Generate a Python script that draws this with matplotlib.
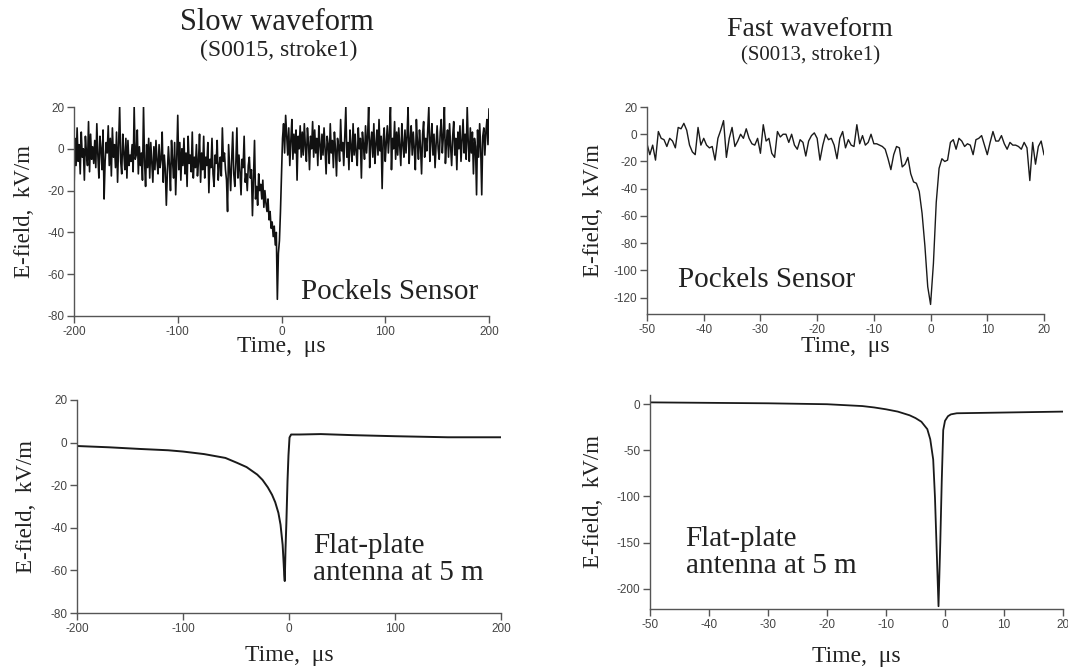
import numpy as np
import matplotlib
matplotlib.use("Agg")
import matplotlib.pyplot as plt

plt.rcParams["axes.unicode_minus"] = False

SERIF = "Liberation Serif"
SANS = "Liberation Sans"

# slow waveform, Pockels sensor: one sample per microsecond, -200..200 us
slow_pockels = [
    -20, 5, -8, 10, -6, 2, -12, 8, -4, 0, -15, 6, -2, -8, 13, -11, 7, -5, 1, -7,
    4, -9, 12, -3, -14, 6, 0, -10, 9, -24, -6, 3, -2, 11, -8, 5, -13, 10, -4, 2,
    -9, 8, -16, 3, 20, -6, -12, 7, -2, -10, 5, -14, 4, -8, -3, -6, 2, -11, 20, -5,
    -3, 9, -12, 1, -8, -2, -15, 20, -6, -18, 2, -9, 5, -14, 3, -7, -16, 1, -10, 4,
    -6, -12, 2, -9, -5, 8, -16, -3, -10, -27, -11, 1, -8, -20, 4, -6, -14, 3, -22, -5,
    16, -10, 3, -15, 0, -8, 5, -12, -2, -18, 6, -7, -3, -11, 8, -14, -4, -9, 2, -13,
    -6, 7, -16, -2, -10, 6, -14, -4, -8, 3, -21, -5, -9, 5, -12, -18, -3, -7, 4, -15,
    -8, -4, -13, 10, -6, -2, -10, -15, -30, 2, -9, -20, -5, 8, -12, -18, -7, 10, -14, -3,
    -11, -22, -5, -9, 6, -16, -12, -20, -8, -4, -14, -10, -32, -14, 4, -24, -18, -27, -12, -20,
    -17, -24, -15, -28, -20, -26, -30, -24, -34, -30, -38, -35, -42, -37, -46, -40, -72, -50, -44, -30,
    -12, 5, 12, -2, 16, 6, -3, 10, -8, 4, 14, -5, 7, -2, 9, -15, 6, 0, 11, -4,
    8, -3, 12, 1, -6, 10, 3, -10, 6, 0, 13, -4, 9, -2, 5, -8, 11, 2, -5, 7,
    -3, 10, 0, -12, 6, 2, -7, 12, -2, 4, -9, 8, 0, -13, 5, 1, -6, 14, -1, 3,
    -8, 6, 20, -4, 3, -10, 9, 1, -6, 12, -3, 7, -2, -8, 10, 0, 5, -14, 8, 2,
    -5, 11, -2, 6, 20, -9, 3, 8, -4, 12, -7, 2, 9, -3, 14, -1, 6, -19, 4, 10,
    -6, 3, 11, -2, 7, 20, -10, 5, 0, 13, -5, 8, -3, 10, 1, -8, 12, 2, -4, 9,
    -2, 6, 20, -7, 4, 11, -3, 8, 0, -10, 14, 3, -5, 9, 1, -12, 7, 13, -4, 5,
    -1, 10, 20, -6, 4, 12, -3, 7, -9, 2, 11, 0, -5, 8, 14, -2, 6, 20, -7, 3,
    9, -4, 12, 1, -8, 6, 13, -3, 5, -10, 8, 0, 11, -6, 4, 14, -2, 7, -5, 20,
    3, -6, 10, -2, 8, -12, 5, 1, -22, 9, -4, 12, 0, -22, 6, 10, -3, 8, 14, 2,
    19,
]
slow_time = np.linspace(-200, 200, len(slow_pockels))

# slow waveform, flat-plate antenna
slow_plate_t = [-200, -170, -140, -114, -100, -80, -60, -49, -40, -30, -25, -20, -16, -13,
                -10, -8, -6, -5, -4.5, -4, -3.3, -2.5, -1.4, -0.5, 0.5, 2, 10, 30, 60,
                100, 150, 200]
slow_plate_v = [-1.6, -2.2, -3, -3.6, -4.2, -5.4, -7.2, -9.5, -11.5, -15, -17.5, -21, -24.5,
                -28, -33, -38.5, -48, -57, -62, -65, -50, -38, -18, -6, 2.4, 3.8, 3.8, 4,
                3.5, 3, 2.5, 2.5]

# fast waveform, Pockels sensor: 0.5 us sampling, -50..20 us
fast_pockels = [
    -7, -15, -8, -19, 2, -3, -4, -9, -3, -5,
    -10, 5, 4, 8, 3, -8, -13, -15, 5, -8,
    -3, -8, -10, -9, -19, -3, 3, 10, -17, -3,
    5, -9, -5, 0, -3, 4, -3, -7, -8, -3,
    -14, 7, -5, -3, -14, -17, 2, -2, 0, 0, -6,
    0, -8, -11, -4, -6, -16, -5, -1, 1, -3,
    -19, -8, 0, -4, -3, -8, -18, -3, 2, -10, -4,
    -8, -9, 7, -7, -1, -8, -6, 0, -7, -7,
    -8, -9, -11, -18, -26, -15, -9, -10, -24, -22,
    -17, -29, -35, -36, -42, -58, -82, -112,
    -125,
    -95, -50, -25, -18, -20, -19, -6, -4, -11, -3,
    -5, -9, -7, -8, -15, -4, -3, -1, -8, -15,
    -6, 2, -5, -5, -1, -7, -11, -6, -8, -8,
    -9, -11, -6, -10, -34, -6, -22, -9, -5, -15,
]
fast_time = np.linspace(-50, 20, len(fast_pockels))

# fast waveform, flat-plate antenna
fast_plate_t = [-50, -40, -30, -20, -17, -14, -12, -10, -8, -6, -5, -4, -3, -2.5, -2, -1.7,
                -1.4, -1.1, -0.8, -0.55, -0.3, 0, 0.5, 1, 2, 5, 10, 15, 20]
fast_plate_v = [2, 1.5, 1, 0, -1, -2, -3.5, -5.5, -8, -12, -15, -19, -27, -38, -60, -101,
                -160, -219, -150, -83, -28, -18, -13, -11, -9.8, -9.5, -9, -8.5, -8]

slow_xticks = [-200, -100, 0, 100, 200]
fast_xticks = [-50, -40, -30, -20, -10, 0, 10, 20]

W, H = 1068, 672
fig = plt.figure(figsize=(W / 100, H / 100), dpi=100)


def px_axes(x0, x1, ytop, ybot):
    return fig.add_axes([x0 / W, 1 - ybot / H, (x1 - x0) / W, (ybot - ytop) / H])


def style(ax, xlim, ylim, xticks, yticks, ylab_x, xlab_y, note, note_xy):
    ax.set_xlim(*xlim)
    ax.set_ylim(*ylim)
    ax.set_xticks(xticks)
    ax.set_yticks(yticks)
    for s in ("top", "right"):
        ax.spines[s].set_visible(False)
    for s in ("left", "bottom"):
        ax.spines[s].set_color("#555555")
        ax.spines[s].set_linewidth(1.0)
    ax.tick_params(direction="out", length=5, width=1, color="#555555",
                   labelsize=8.5, labelcolor="#444444", pad=2)
    for lab in ax.get_xticklabels() + ax.get_yticklabels():
        lab.set_family(SANS)
    ax.set_xlabel("Time,  \u03bcs", family=SERIF, fontsize=17, va="center",
                  color="#222222")
    ax.xaxis.set_label_coords(0.5, xlab_y)
    ax.set_ylabel("E-field,  kV/m", family=SERIF, fontsize=16.5, va="center",
                  color="#222222")
    ax.yaxis.set_label_coords(ylab_x, 0.5)
    ax.text(note_xy[0], note_xy[1], note, transform=ax.transAxes, family=SERIF,
            fontsize=21, color="#222222", va="center", linespacing=1.05)


ax1 = px_axes(74, 489, 107, 316)
ax1.plot(slow_time, slow_pockels, color="#111111", linewidth=1.2)
style(ax1, (-200, 200), (-80, 20), slow_xticks, [20, 0, -20, -40, -60, -80],
      -0.12, -0.148, "Pockels Sensor", (0.547, 0.115))

ax2 = px_axes(77, 501, 400, 613)
ax2.plot(slow_plate_t, slow_plate_v, color="#1a1a1a", linewidth=1.4)
style(ax2, (-200, 200), (-80, 20), slow_xticks, [20, 0, -20, -40, -60, -80],
      -0.12, -0.20, "Flat-plate\nantenna at 5 m", (0.557, 0.249))

ax3 = px_axes(647, 1044, 107, 314)
ax3.plot(fast_time, fast_pockels, color="#1a1a1a", linewidth=1.0)
style(ax3, (-50, 20), (-132, 20), fast_xticks, [20, 0, -20, -40, -60, -80, -100, -120],
      -0.136, -0.155, "Pockels Sensor", (0.078, 0.162))

ax4 = px_axes(650, 1063, 395, 609)
ax4.plot(fast_plate_t, fast_plate_v, color="#1a1a1a", linewidth=1.3)
style(ax4, (-50, 20), (-222, 10), fast_xticks, [0, -50, -100, -150, -200],
      -0.137, -0.224, "Flat-plate\nantenna at 5 m", (0.086, 0.262))

fig.text(277 / W, 1 - 22 / H, "Slow waveform", family=SERIF, fontsize=22,
         ha="center", va="center", color="#222222")
fig.text(279 / W, 1 - 50 / H, "(S0015, stroke1)", family=SERIF, fontsize=17,
         ha="center", va="center", color="#222222")
fig.text(810 / W, 1 - 30 / H, "Fast waveform", family=SERIF, fontsize=20,
         ha="center", va="center", color="#222222")
fig.text(811 / W, 1 - 56 / H, "(S0013, stroke1)", family=SERIF, fontsize=15,
         ha="center", va="center", color="#222222")

fig.savefig("out.png", dpi=100)
